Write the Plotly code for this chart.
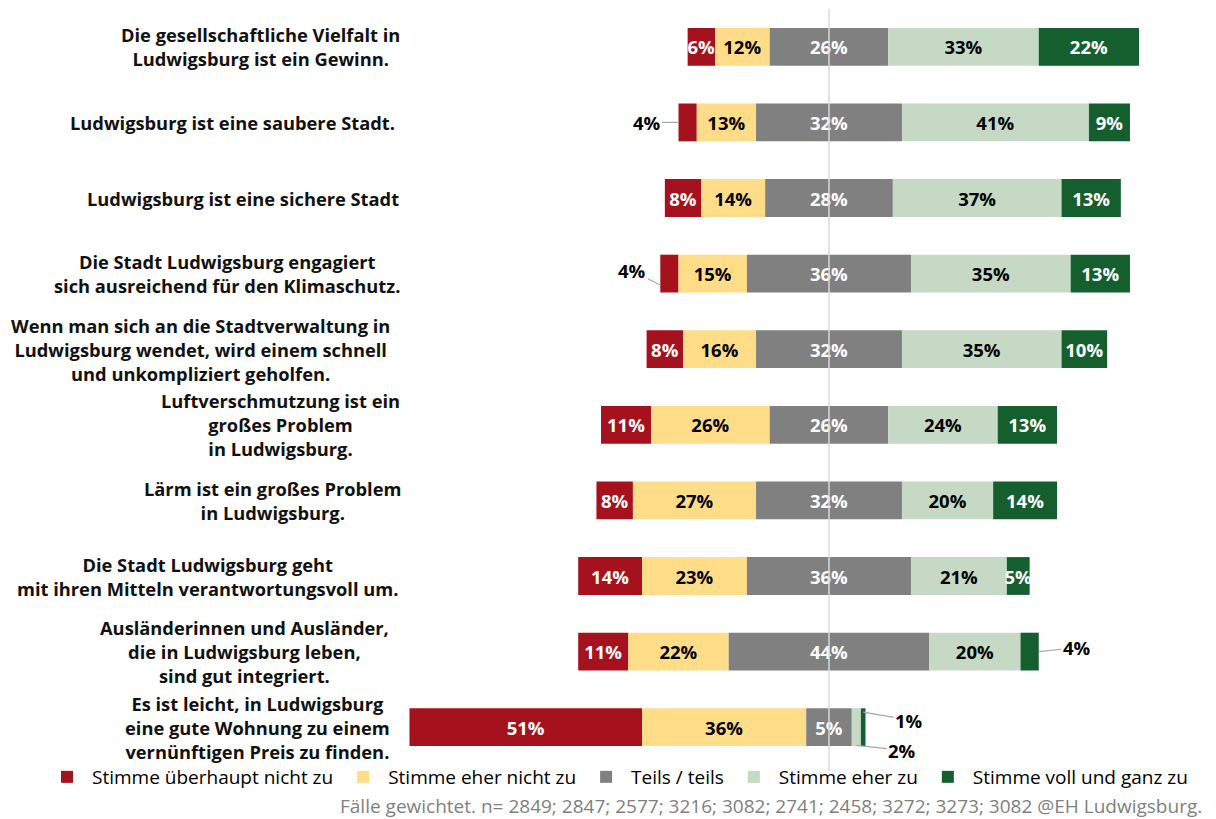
import plotly.graph_objects as go
import numpy as np

# ---------------- data ----------------
statements = [
    "Die gesellschaftliche Vielfalt in<br>Ludwigsburg ist ein Gewinn.",
    "Ludwigsburg ist eine saubere Stadt.",
    "Ludwigsburg ist eine sichere Stadt",
    "Die Stadt Ludwigsburg engagiert<br>sich ausreichend für den Klimaschutz.",
    "Wenn man sich an die Stadtverwaltung in<br>Ludwigsburg wendet, wird einem schnell<br>und unkompliziert geholfen.",
    "Luftverschmutzung ist ein<br>großes Problem<br>in Ludwigsburg.",
    "Lärm ist ein großes Problem<br>in Ludwigsburg.",
    "Die Stadt Ludwigsburg geht<br>mit ihren Mitteln verantwortungsvoll um.",
    "Ausländerinnen und Ausländer,<br>die in Ludwigsburg leben,<br>sind gut integriert.",
    "Es ist leicht, in Ludwigsburg<br>eine gute Wohnung zu einem<br>vernünftigen Preis zu finden.",
]

series_names = [
    "Stimme überhaupt nicht zu",
    "Stimme eher nicht zu",
    "Teils / teils",
    "Stimme eher zu",
    "Stimme voll und ganz zu",
]

red_vals    = [6, 4, 8, 4, 8, 11, 8, 14, 11, 51]
yellow_vals = [12, 13, 14, 15, 16, 26, 27, 23, 22, 36]
grey_vals   = [26, 32, 28, 36, 32, 26, 32, 36, 44, 10]
lgreen_vals = [33, 41, 37, 35, 35, 24, 20, 21, 20, 2]
dgreen_vals = [22, 9, 13, 13, 10, 13, 14, 5, 4, 1]

# labels as printed in the chart ("" = printed outside the bar)
red_lbl    = ["6%", "", "8%", "", "8%", "11%", "8%", "14%", "11%", "51%"]
yellow_lbl = ["12%", "13%", "14%", "15%", "16%", "26%", "27%", "23%", "22%", "36%"]
grey_lbl   = ["26%", "32%", "28%", "36%", "32%", "26%", "32%", "36%", "44%", "5%"]
lgreen_lbl = ["33%", "41%", "37%", "35%", "35%", "24%", "20%", "21%", "20%", ""]
dgreen_lbl = ["22%", "9%", "13%", "13%", "10%", "13%", "14%", "5%", "", ""]

footnote = "Fälle gewichtet. n= 2849; 2847; 2577; 3216; 3082; 2741; 2458; 3272; 3273; 3082 @EH Ludwigsburg."

# ---------------- styling ----------------
colors = ["#A6111E", "#FFDD88", "#808080", "#C5D9C5", "#155F2F"]
text_colors = ["white", "black", "white", "black", "white"]
FONT = "Open Sans"

r = np.array(red_vals, float)
yl = np.array(yellow_vals, float)
g = np.array(grey_vals, float)
lg = np.array(lgreen_vals, float)
dg = np.array(dgreen_vals, float)

# diverging bases: "Teils / teils" centred on zero
grey_base = -g / 2
yellow_base = grey_base - yl
red_base = yellow_base - r
lgreen_base = g / 2
dgreen_base = lgreen_base + lg

vals = [r, yl, g, lg, dg]
bases = [red_base, yellow_base, grey_base, lgreen_base, dgreen_base]
lbls = [red_lbl, yellow_lbl, grey_lbl, lgreen_lbl, dgreen_lbl]

idx = list(range(len(statements)))

fig = go.Figure()
for name, v, b, lb, c, tc in zip(series_names, vals, bases, lbls, colors, text_colors):
    fig.add_trace(go.Bar(
        y=idx, x=v, base=b, orientation="h", name=name,
        marker=dict(color=c, line=dict(width=0)),
        text=lb, textposition="inside", insidetextanchor="middle",
        constraintext="none", textangle=0,
        textfont=dict(family=FONT, size=18.5, color=tc, weight="bold"),
        hoverinfo="skip",
    ))

# ---------------- layout geometry ----------------
L, R, T, B = 400, 16, 9, 54
W, H = 1216, 819
px_per_pct = 4.56
center_px = 829
x0 = -(center_px - L) / px_per_pct
x1 = x0 + (W - L - R) / px_per_pct
plot_w = W - L - R
plot_h = H - T - B

annotations = []

# statement labels (centred text blocks left of the bars)
label_center_px = [260, 232, 243, 227, 200, 280, 272, 207, 244, 257]
for i, (s, cx) in enumerate(zip(statements, label_center_px)):
    annotations.append(dict(
        x=(cx - L) / plot_w, xref="paper", y=i, yref="y",
        text=s, showarrow=False, xanchor="center", yanchor="middle", align="center",
        font=dict(family=FONT, size=18.3, color="#111111", weight="bold"),
    ))

# outside labels with leader lines
lead = dict(showarrow=True, arrowhead=0, arrowwidth=1.2, arrowcolor="#A6A6A6",
            font=dict(family=FONT, size=18.5, color="black", weight="bold"))
annotations.append(dict(x=red_base[1], y=1, xref="x", yref="y", text=f"{red_vals[1]}%",
                        ax=-32, ay=0, **lead))
annotations.append(dict(x=red_base[3], y=3.15, xref="x", yref="y", text=f"{red_vals[3]}%",
                        ax=-28, ay=-14, **lead))
annotations.append(dict(x=dgreen_base[8] + dg[8], y=8, xref="x", yref="y", text=f"{dgreen_vals[8]}%",
                        ax=38, ay=-4, **lead))
annotations.append(dict(x=lgreen_base[9] + lg[9] / 2, y=9.24, xref="x", yref="y", text=f"{lgreen_vals[9]}%",
                        ax=46, ay=5, **lead))
annotations.append(dict(x=dgreen_base[9] + dg[9] / 2, y=8.8, xref="x", yref="y", text=f"{dgreen_vals[9]}%",
                        ax=46, ay=8, **lead))

# footnote
annotations.append(dict(
    x=(1204 - L) / plot_w, xref="paper", y=(plot_h - (806 - T)) / plot_h, yref="paper",
    text=footnote, showarrow=False, xanchor="right", yanchor="middle",
    font=dict(family=FONT, size=19, color="#7F7F7F"),
))

fig.update_layout(
    width=W, height=H,
    margin=dict(l=L, r=R, t=T, b=B, pad=0),
    barmode="overlay", bargap=0.5,
    paper_bgcolor="white", plot_bgcolor="white",
    xaxis=dict(range=[x0, x1], showgrid=False, zeroline=False, showticklabels=False,
               showline=False, ticks=""),
    yaxis=dict(range=[len(statements) - 0.5, -0.5], showgrid=False, zeroline=False,
               showticklabels=False, showline=False, ticks=""),
    showlegend=True,
    legend=dict(orientation="h", x=(42 - L) / plot_w, xanchor="left",
                y=(plot_h - (777 - T)) / plot_h, yanchor="middle",
                font=dict(family=FONT, size=19, color="black"),
                itemwidth=40,
                traceorder="normal", bgcolor="rgba(0,0,0,0)"),
    annotations=annotations,
    shapes=[dict(type="line", xref="x", yref="paper", x0=0, x1=0, y0=-0.008, y1=1.0,
                 line=dict(color="#D9D9D9", width=1.5), layer="above")],
    font=dict(family=FONT),
)

fig.write_html(
    "out.html",
    config={"displayModeBar": False},
    post_script="document.body.style.margin='0';document.body.style.overflow='hidden';",
)
